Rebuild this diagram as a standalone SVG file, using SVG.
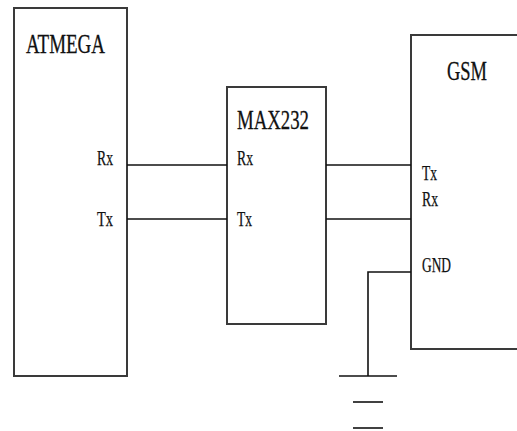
<svg xmlns="http://www.w3.org/2000/svg" width="517" height="431" viewBox="0 0 517 431">
<style>
.box{fill:#fff;stroke:#3a3a3a;stroke-width:2}
.wire{fill:none;stroke:#111;stroke-width:1.6}
.title{font-family:"Liberation Serif","Times New Roman",serif;font-size:27px;fill:#111;stroke:#111;stroke-width:0.3}
.lbl{font-family:"Liberation Serif","Times New Roman",serif;font-size:20px;fill:#111;stroke:#111;stroke-width:0.25}
</style>
<rect width="517" height="431" fill="#fff"/>
<g id="atmega">
<rect class="box" x="14" y="8" width="113" height="368"/>
<text class="title" x="26" y="53" textLength="79" lengthAdjust="spacingAndGlyphs">ATMEGA</text>
<text class="lbl" x="97" y="165" textLength="16" lengthAdjust="spacingAndGlyphs">Rx</text>
<text class="lbl" x="97" y="226" textLength="16" lengthAdjust="spacingAndGlyphs">Tx</text>
</g>
<g id="max232">
<rect class="box" x="227" y="87" width="99" height="237"/>
<text class="title" x="237" y="129" textLength="72" lengthAdjust="spacingAndGlyphs">MAX232</text>
<text class="lbl" x="237" y="165" textLength="16" lengthAdjust="spacingAndGlyphs">Rx</text>
<text class="lbl" x="237" y="226" textLength="15" lengthAdjust="spacingAndGlyphs">Tx</text>
</g>
<g id="gsm">
<rect class="box" x="411" y="35" width="130" height="314"/>
<text class="title" x="447" y="80" textLength="40" lengthAdjust="spacingAndGlyphs">GSM</text>
<text class="lbl" x="422" y="180" textLength="15" lengthAdjust="spacingAndGlyphs">Tx</text>
<text class="lbl" x="422" y="206" textLength="16" lengthAdjust="spacingAndGlyphs">Rx</text>
<text class="lbl" x="422" y="272" textLength="29" lengthAdjust="spacingAndGlyphs">GND</text>
</g>
<g id="ground">
<line class="wire" x1="339" y1="376" x2="397" y2="376" stroke-width="2"/>
<line class="wire" x1="353" y1="402" x2="383" y2="402" stroke-width="2"/>
<line class="wire" x1="353" y1="428" x2="383" y2="428" stroke-width="2"/>
</g>
<g id="connectors">
<line class="wire" x1="127" y1="165" x2="227" y2="165"/>
<line class="wire" x1="127" y1="219" x2="227" y2="219"/>
<line class="wire" x1="326" y1="165" x2="411" y2="165"/>
<line class="wire" x1="326" y1="219" x2="411" y2="219"/>
<polyline class="wire" points="411,272 368,272 368,376"/>
</g>
</svg>
